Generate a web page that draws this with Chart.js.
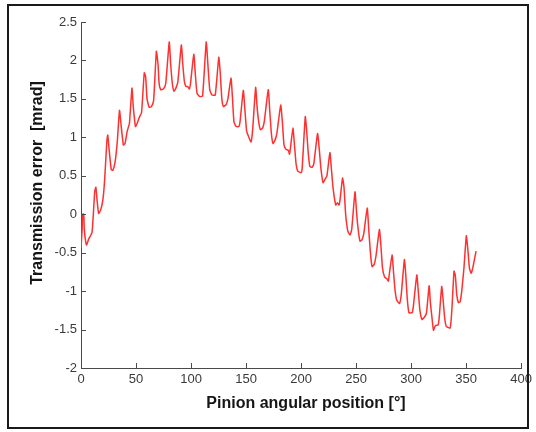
<!DOCTYPE html>
<html>
<head>
<meta charset="utf-8">
<script src="https://cdn.jsdelivr.net/npm/chart.js@4.4.1/dist/chart.umd.min.js"></script>
<style>
html,body{margin:0;padding:0;background:#fff;}
#wrap{width:536px;height:432px;position:relative;}
canvas{display:block;}
</style>
</head>
<body>
<div id="wrap"><canvas id="c" width="536" height="432"></canvas></div>
<script>
// Pinion angular position [deg]
const angle = [0,1,1.5,2.5,3,5,7,9,10,11,12.5,13.5,14.5,16,18,20,21.5,23.5,24.3,25.5,27.5,29,31,33,35,36.5,38.5,40,42,44,46.3,47.5,49.5,51,53,55,57.5,58.8,60,62,64,66,68.5,70,71,72.5,75,77,80.2,81.5,83,84.5,86.5,88,91.2,92.5,94,95.5,97,98.5,99.5,102.5,104,105.5,108,110.5,113.8,115.3,117,119,122,125.2,126.5,128,129.5,132,133.5,136.3,137.5,139,141,143.5,144.5,147.5,149,150.5,152,154.5,156,158.7,160,161.5,163,165,166.5,170.2,171.5,173,174.5,176.5,178,181.5,183,184.5,186.5,188.5,189.5,190.5,192.6,194,195.5,197,200,201,203.8,205,206.5,208,210,211.5,215,216.5,218,220,222,223.5,226.2,227.5,229,231.5,233,234.5,235.5,237.7,239,240.5,242.5,244.5,246,249,250.3,251.5,253.5,255.5,257,260.1,261.5,263,264.5,266.5,268,271.2,272.5,274,276,278,279.3,280,282.7,284,285.5,287,289.5,291,293.9,295.2,296.5,298,301,302,305.2,306.5,308,310,312.5,314,316.4,317.5,319,320.3,322,324.5,325.5,327.8,329,330.5,332,335.5,337,339,340.2,341.5,343,344.5,346,348,350.2,351.5,353,354.5,356,359];
// Transmission error [mrad]
const transError = [-0.44,-0.2,0.0,0.0,-0.2,-0.40,-0.32,-0.27,-0.24,-0.05,0.3,0.35,0.2,0.01,0.06,0.2,0.45,0.95,1.03,0.85,0.58,0.57,0.68,0.95,1.35,1.15,0.9,0.92,1.08,1.18,1.64,1.4,1.14,1.18,1.26,1.32,1.84,1.78,1.5,1.39,1.40,1.48,2.12,1.95,1.7,1.62,1.63,1.7,2.24,1.95,1.7,1.6,1.65,1.72,2.2,1.95,1.72,1.66,1.66,1.63,1.7,2.08,1.8,1.57,1.53,1.54,2.24,1.95,1.62,1.55,1.55,2.04,1.85,1.5,1.40,1.43,1.5,1.77,1.55,1.2,1.14,1.14,1.2,1.61,1.35,1.08,1.02,0.94,1.1,1.65,1.4,1.2,1.1,1.12,1.2,1.62,1.35,1.05,0.92,0.97,1.05,1.42,1.2,0.9,0.84,0.83,0.78,0.88,1.12,0.9,0.65,0.56,0.54,0.6,1.27,1.1,0.8,0.62,0.61,0.65,1.05,0.85,0.6,0.41,0.46,0.5,0.80,0.6,0.35,0.12,0.15,0.12,0.2,0.47,0.35,0.0,-0.22,-0.27,-0.2,0.29,0.05,-0.15,-0.35,-0.33,-0.25,0.08,-0.2,-0.5,-0.68,-0.65,-0.55,-0.2,-0.4,-0.7,-0.82,-0.84,-0.87,-0.8,-0.53,-0.75,-1.0,-1.12,-1.16,-1.05,-0.59,-0.8,-1.1,-1.28,-1.28,-1.2,-0.79,-1.0,-1.25,-1.37,-1.33,-1.28,-0.93,-1.15,-1.35,-1.51,-1.45,-1.44,-1.35,-0.94,-1.1,-1.35,-1.46,-1.48,-1.25,-0.74,-0.8,-1.05,-1.15,-1.14,-1.0,-0.7,-0.28,-0.45,-0.7,-0.77,-0.7,-0.48];

const xTicks = [0,50,100,150,200,250,300,350,400];
const yTicks = [-2,-1.5,-1,-0.5,0,0.5,1,1.5,2,2.5];
const xTitle = 'Pinion angular position [°]';
const yTitle = 'Transmission error  [mrad]';

const points = angle.map((a, i) => ({x: a, y: transError[i]}));

const AXIS_COLOR = '#4a4a4a';
const FONT = '"Liberation Sans", Arial, sans-serif';

const framePlugin = {
  id: 'frame',
  beforeDraw(chart) {
    const ctx = chart.ctx;
    ctx.save();
    ctx.fillStyle = '#fff';
    ctx.fillRect(0, 0, chart.width, chart.height);
    ctx.restore();
  },
  afterDraw(chart) {
    const ctx = chart.ctx;
    const xs = chart.scales.x, ys = chart.scales.y;
    const area = chart.chartArea;
    ctx.save();
    ctx.strokeStyle = AXIS_COLOR;
    ctx.lineWidth = 1;
    ctx.beginPath();
    xs.ticks.forEach(t => {
      const px = Math.round(xs.getPixelForValue(t.value)) + 0.5;
      ctx.moveTo(px, area.bottom);
      ctx.lineTo(px, area.bottom - 5);
    });
    ys.ticks.forEach(t => {
      const py = Math.round(ys.getPixelForValue(t.value)) + 0.5;
      ctx.moveTo(area.left, py);
      ctx.lineTo(area.left + 5, py);
    });
    ctx.stroke();
    ctx.fillStyle = '#151515';
    ctx.font = 'bold 16px ' + FONT;
    ctx.textAlign = 'center';
    ctx.textBaseline = 'middle';
    ctx.fillText(xTitle, 306, 404);
    ctx.translate(38, 183);
    ctx.rotate(-Math.PI / 2);
    ctx.fillText(yTitle, 0, 0);
    ctx.restore();
    ctx.save();
    ctx.strokeStyle = '#1a1a1a';
    ctx.lineWidth = 2;
    ctx.strokeRect(8, 5, 520, 423);
    ctx.restore();
  }
};

new Chart(document.getElementById('c'), {
  type: 'scatter',
  data: {
    datasets: [{
      data: points,
      showLine: true,
      borderColor: '#ff3030',
      borderWidth: 1.5,
      pointRadius: 0,
      tension: 0.15
    }]
  },
  options: {
    responsive: false,
    animation: false,
    events: [],
    layout: {padding: {left: 30, top: 22, right: 14, bottom: 20}},
    plugins: {legend: {display: false}, tooltip: {enabled: false}},
    scales: {
      x: {
        type: 'linear',
        min: 0, max: 400,
        afterBuildTicks: s => { s.ticks = xTicks.map(v => ({value: v})); },
        afterFit: s => { s.height = 44; },
        grid: {display: true, drawOnChartArea: false, drawTicks: false, color: AXIS_COLOR},
        border: {display: true, color: AXIS_COLOR, width: 1},
        ticks: {padding: 4, color: '#3a3a3a', font: {family: FONT, size: 13}, maxRotation: 0, autoSkip: false,
          callback: v => String(v)}
      },
      y: {
        type: 'linear',
        min: -2, max: 2.5,
        afterBuildTicks: s => { s.ticks = yTicks.map(v => ({value: v})); },
        afterFit: s => { s.width = 51; },
        grid: {display: true, drawOnChartArea: false, drawTicks: false, color: AXIS_COLOR},
        border: {display: true, color: AXIS_COLOR, width: 1},
        ticks: {padding: 4, color: '#3a3a3a', font: {family: FONT, size: 13}, autoSkip: false,
          callback: v => String(v)}
      }
    }
  },
  plugins: [framePlugin]
});
</script>
</body>
</html>
